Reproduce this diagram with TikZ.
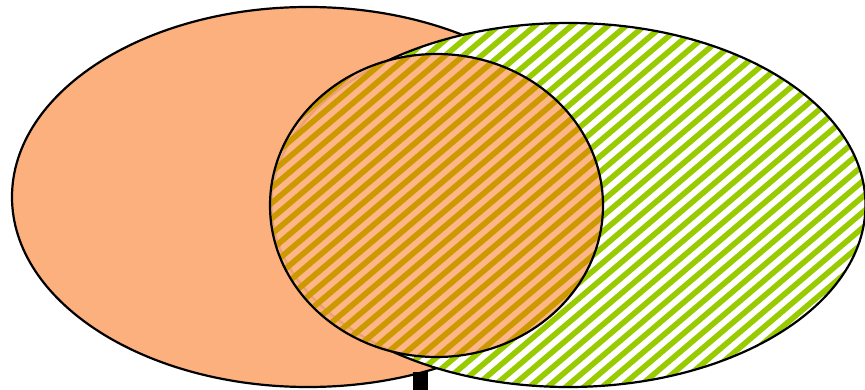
\documentclass[tikz,border=0pt]{standalone}
\begin{document}
\begin{tikzpicture}[x=1pt,y=-1pt,
  outline/.style={draw=black,line width=2.2pt},
  stripe/.style={line width=5.6pt}]
\definecolor{peach}{RGB}{252,176,125}
\definecolor{lime}{RGB}{153,204,0}
\definecolor{gold}{RGB}{204,153,0}
\useasboundingbox (0,0) rectangle (865,390);
% left orange ellipse
\fill[peach] (308,197) ellipse [x radius=296, y radius=190];
\draw[outline] (308,197) ellipse [x radius=296, y radius=190];
% right hatched ellipse
\fill[white] (568.5,205) ellipse [x radius=297, y radius=182];
\begin{scope}
  \clip (568.5,205) ellipse [x radius=297, y radius=182];
  \foreach \c in {0,15.5,...,1160}
    \draw[stripe,lime] (0,\c) -- (880,\c-748);
\end{scope}
\draw[outline] (568.5,205) ellipse [x radius=297, y radius=182];
% middle ellipse
\fill[peach,opacity=0.92] (436.5,205.5) ellipse [x radius=166.5, y radius=151.5];
\begin{scope}
  \clip (436.5,205.5) ellipse [x radius=166.5, y radius=151.5];
  \foreach \c in {0,15.5,...,1160}
    \draw[stripe,gold] (0,\c) -- (880,\c-748);
\end{scope}
\draw[outline] (436.5,205.5) ellipse [x radius=166.5, y radius=151.5];
% small black bar
\fill[black] (413,372) rectangle (428,390);
\end{tikzpicture}
\end{document}
